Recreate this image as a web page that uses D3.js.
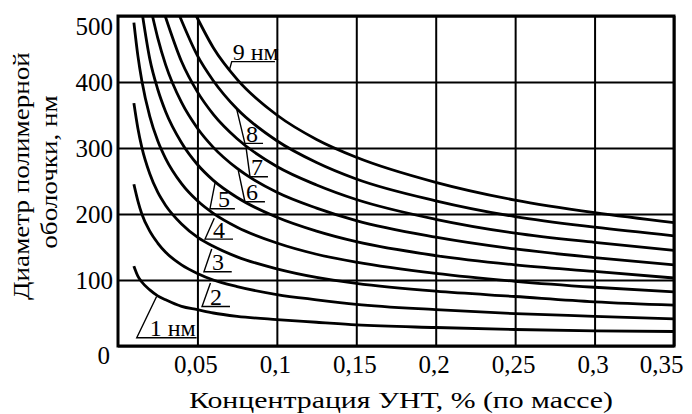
<!DOCTYPE html>
<html><head><meta charset="utf-8">
<script src="https://cdn.jsdelivr.net/npm/d3@7"></script>
<style>
body{margin:0;background:#fff}
svg{display:block}
</style>
</head><body>
<svg id="chart" width="692" height="414"></svg>
<script>
// ---- data ----
const xTickValues = [0.05, 0.1, 0.15, 0.2, 0.25, 0.3, 0.35];
const xTickLabels = ["0,05", "0,1", "0,15", "0,2", "0,25", "0,3", "0,35"];
const yTickValues = [0, 100, 200, 300, 400, 500];
const yTickLabels = ["0", "100", "200", "300", "400", "500"];
const curveNames = ["1 нм", "2", "3", "4", "5", "6", "7", "8", "9 нм"];
const xTitle = "Концентрация УНТ, % (по массе)";
const yTitleLines = ["Диаметр полимерной", "оболочки, нм"];

// [concentration %, diameter nm]
const curve1 = [[0.01,121],[0.0125,106],[0.015,97],[0.02,85],[0.025,76],[0.03,70],[0.04,60],[0.05,55],[0.06,50],[0.075,45],[0.1,40],[0.125,36],[0.15,32],[0.2,28],[0.25,25],[0.3,23],[0.35,22]];
const curve2 = [[0.01,245],[0.0125,220],[0.015,200],[0.02,174],[0.025,156],[0.03,142],[0.04,123],[0.05,110],[0.06,100],[0.075,90],[0.1,78],[0.125,70],[0.15,63],[0.2,55],[0.25,49],[0.3,45],[0.35,41]];
const curve3 = [[0.01,368],[0.0125,330],[0.015,301],[0.02,261],[0.025,233],[0.03,213],[0.04,185],[0.05,165],[0.06,151],[0.075,135],[0.1,117],[0.125,104],[0.15,95],[0.2,83],[0.25,75],[0.3,67],[0.35,62]];
const curve4 = [[0.01,490],[0.0125,440],[0.015,402],[0.02,348],[0.025,311],[0.03,284],[0.04,246],[0.05,220],[0.06,201],[0.075,180],[0.1,156],[0.125,139],[0.15,127],[0.2,110],[0.25,98],[0.3,89],[0.35,82]];
const curve5 = [[0.0155,500],[0.02,435],[0.025,389],[0.03,355],[0.04,308],[0.05,275],[0.06,251],[0.075,225],[0.1,195],[0.125,174],[0.15,158],[0.2,137],[0.25,123],[0.3,113],[0.35,103]];
const curve6 = [[0.0217,500],[0.025,467],[0.03,426],[0.04,369],[0.05,330],[0.06,301],[0.075,269],[0.1,233],[0.125,209],[0.15,190],[0.2,165],[0.25,147],[0.3,134],[0.35,123]];
const curve7 = [[0.0297,500],[0.04,431],[0.05,385],[0.06,351],[0.075,314],[0.1,272],[0.125,244],[0.15,222],[0.2,192],[0.25,171],[0.3,157],[0.35,145]];
const curve8 = [[0.0388,500],[0.05,440],[0.06,402],[0.075,359],[0.1,311],[0.125,278],[0.15,253],[0.2,220],[0.25,196],[0.3,180],[0.35,167]];
const curve9 = [[0.0493,500],[0.06,452],[0.075,404],[0.1,350],[0.125,313],[0.15,286],[0.2,248],[0.25,221],[0.3,202],[0.35,187]];
const curves = [curve1, curve2, curve3, curve4, curve5, curve6, curve7, curve8, curve9];

// label leaders: tip on the curve [c, D], underline left end [c, D], underline right end c
const labelTips  = [[0.0243,75],[0.0582,95.5],[0.0590,147],[0.0606,193.5],[0.0611,247],[0.0757,266],[0.0806,301],[0.0747,359],[0.0701,418]];
const labelFeet  = [[0.0118,12.6],[0.0529,59.8],[0.0541,112.6],[0.0548,162],[0.0579,208],[0.0799,218.6],[0.0831,256.5],[0.0799,307],[0.0716,430.8]];
const labelRight = [0.0495,0.0705,0.0716,0.0724,0.0736,0.0925,0.0944,0.0913,0.0988];

// ---- layout ----
const FONT = "Liberation Serif";
const svg = d3.select("#chart");
const margin = {left: 118, top: 16, right: 18, bottom: 68};
const W = 692, H = 414;
const x = d3.scaleLinear().domain([0, 0.35]).range([margin.left, W - margin.right]);
const y = d3.scaleLinear().domain([0, 500]).range([H - margin.bottom, margin.top]);
const plotW = x.range()[1] - x.range()[0];
const plotH = y.range()[0] - y.range()[1];

// grid + ticks via axes
const gx = svg.append("g")
  .attr("transform", `translate(0,${y(0)})`)
  .call(d3.axisBottom(x).tickValues(xTickValues)
    .tickFormat((d, i) => xTickLabels[i])
    .tickSizeInner(-plotH).tickSizeOuter(0).tickPadding(9));
gx.attr("font-family", FONT);
gx.select(".domain").remove();
gx.selectAll(".tick line").attr("stroke", "#000").attr("stroke-width", 2);
gx.selectAll(".tick text")
  .style("font-family", FONT).style("font-size", "25px").attr("fill", "#000")
  .attr("dx", -2)
  .each(function(d, i) {
    if (i === xTickValues.length - 1) d3.select(this).attr("text-anchor", "end").attr("dx", 9);
  });

const gy = svg.append("g")
  .attr("transform", `translate(${x(0)},0)`)
  .call(d3.axisLeft(y).tickValues(yTickValues)
    .tickFormat((d, i) => yTickLabels[i])
    .tickSizeInner(-plotW).tickSizeOuter(0).tickPadding(5));
gy.attr("font-family", FONT);
gy.select(".domain").remove();
gy.selectAll(".tick line").attr("stroke", "#000").attr("stroke-width", 2);
gy.selectAll(".tick text")
  .style("font-family", FONT).style("font-size", "25px").attr("fill", "#000")
  .each(function(d) {
    const t = d3.select(this);
    if (d === 500) t.attr("dy", "0.75em");
    if (d === 0) t.attr("dy", "0.68em").attr("x", -8);
  });

// frame
svg.append("rect")
  .attr("x", x(0)).attr("y", y(500))
  .attr("width", plotW).attr("height", plotH)
  .attr("fill", "none").attr("stroke", "#000").attr("stroke-width", 3);

// curves
const line = d3.line().x(d => x(d[0])).y(d => y(d[1])).curve(d3.curveMonotoneX);
svg.append("g").selectAll("path").data(curves).join("path")
  .attr("d", line)
  .attr("fill", "none").attr("stroke", "#000").attr("stroke-width", 2.8);

// labels with leaders
const lab = svg.append("g");
curveNames.forEach((name, i) => {
  const tip = labelTips[i], foot = labelFeet[i];
  const fx = x(foot[0]), fy = y(foot[1]);
  lab.append("path")
    .attr("d", `M${x(tip[0])},${y(tip[1])}L${fx},${fy}L${x(labelRight[i])},${fy}`)
    .attr("fill", "none").attr("stroke", "#000").attr("stroke-width", 1.4);
  const textX = i === 0 ? fx + 13 : (i >= 5 ? fx + 1 : fx + 8);
  lab.append("text")
    .attr("x", textX).attr("y", fy - 1.5)
    .style("font-family", FONT).style("font-size", "24px").attr("fill", "#000")
    .text(name);
});

// axis titles: stretched along the line to the reference's extent
const xt = svg.append("text")
  .attr("x", 0).attr("y", 0)
  .attr("text-anchor", "middle")
  .style("font-family", FONT).style("font-size", "24px").attr("fill", "#000")
  .text(xTitle);
const xs = 424 / xt.node().getComputedTextLength();
xt.attr("transform", `translate(401,408) scale(${xs.toFixed(3)},1)`);

const ytPos = [[29, 176], [57, 172]];
const yts = yTitleLines.map((t, i) => svg.append("text")
    .attr("text-anchor", "middle")
    .style("font-family", FONT).style("font-size", "24px").attr("fill", "#000")
    .text(t));
const ys = 248 / yts[0].node().getComputedTextLength();
yts.forEach((t, i) => t.attr("transform",
  `translate(${ytPos[i][0]},${ytPos[i][1]}) rotate(-90) scale(${ys.toFixed(3)},1)`));
</script>
</body></html>
